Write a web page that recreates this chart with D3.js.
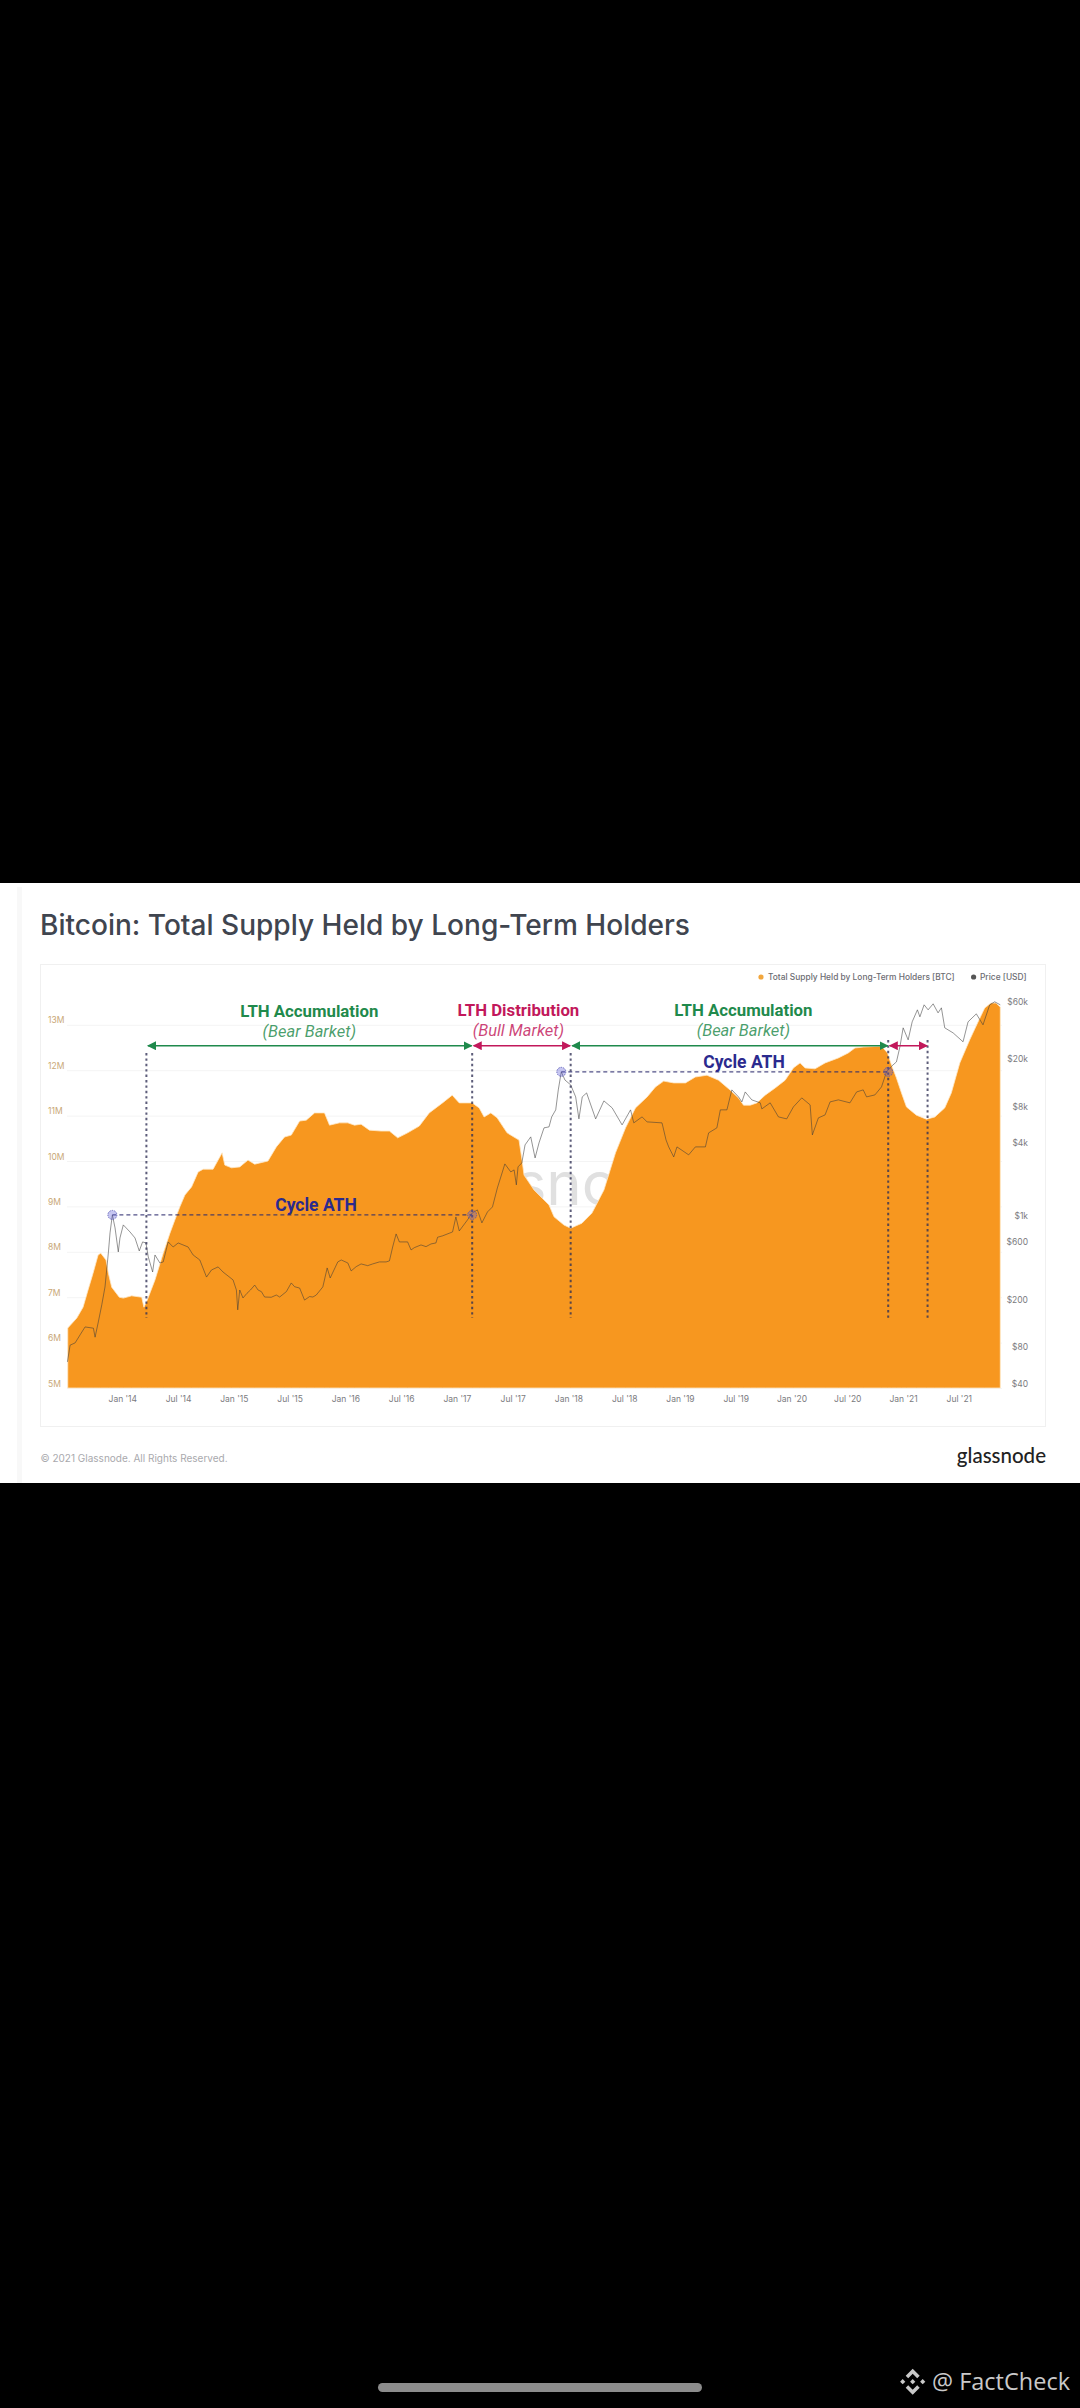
<!DOCTYPE html>
<html lang="en">
<head>
<meta charset="utf-8">
<title>Bitcoin: Total Supply Held by Long-Term Holders</title>
<style>
  html, body { margin: 0; padding: 0; background: #000; }
  svg { display: block; }
  .axis path { display: none; }
  .axis text { font-family: Inter, sans-serif; font-size: 8.5px; }
  .annot { font-family: Roboto, sans-serif; text-anchor: middle; }
</style>
<script src="https://d3js.org/d3.v7.min.js"></script>
</head>
<body>
<div id="chart"></div>
<script>
// values
const supplyYears = [2013.511,2013.592,2013.648,2013.693,2013.738,2013.783,2013.807,2013.854,2013.875,2013.905,2013.973,2014.009,2014.084,2014.174,2014.194,2014.224,2014.293,2014.367,2014.427,2014.471,2014.516,2014.561,2014.621,2014.680,2014.725,2014.814,2014.859,2014.895,2014.919,2014.979,2015.053,2015.127,2015.187,2015.306,2015.381,2015.455,2015.515,2015.590,2015.649,2015.724,2015.813,2015.858,2015.947,2016.022,2016.082,2016.141,2016.216,2016.320,2016.395,2016.469,2016.558,2016.663,2016.752,2016.871,2016.958,2017.021,2017.137,2017.200,2017.244,2017.304,2017.361,2017.450,2017.557,2017.584,2017.602,2017.692,2017.826,2017.871,2017.960,2018.020,2018.121,2018.210,2018.318,2018.422,2018.512,2018.601,2018.705,2018.780,2018.854,2018.944,2019.049,2019.138,2019.242,2019.346,2019.451,2019.525,2019.570,2019.630,2019.689,2019.764,2019.854,2019.943,2020.017,2020.077,2020.122,2020.211,2020.301,2020.420,2020.509,2020.569,2020.643,2020.807,2020.861,2020.897,2020.941,2020.986,2021.031,2021.120,2021.210,2021.285,2021.374,2021.433,2021.509,2021.598,2021.672,2021.732,2021.789,2021.833,2021.872];
const supplyValues = [6.32,6.54,6.78,7.16,7.53,7.93,7.97,7.82,7.53,7.22,7.00,6.98,7.03,7.00,6.78,6.94,7.38,7.97,8.41,8.70,8.99,9.25,9.43,9.76,9.82,9.82,10.02,10.18,9.91,9.85,9.87,10.02,9.93,10.00,10.31,10.53,10.57,10.88,10.90,11.06,11.06,10.79,10.84,10.84,10.79,10.81,10.68,10.66,10.66,10.51,10.62,10.77,11.06,11.28,11.45,11.28,11.28,11.17,10.97,11.06,10.95,10.62,10.46,10.02,9.69,9.36,9.03,8.77,8.59,8.52,8.63,8.85,9.36,10.18,10.73,11.17,11.41,11.63,11.76,11.72,11.72,11.85,11.89,11.78,11.56,11.39,11.23,11.23,11.28,11.45,11.61,11.78,12.05,12.16,12.05,12.03,12.16,12.27,12.38,12.49,12.51,12.53,12.38,12.11,11.83,11.50,11.19,11.01,10.92,10.97,11.17,11.50,12.16,12.67,13.06,13.37,13.48,13.48,13.39];

const priceYears = [2013.508,2013.532,2013.577,2013.622,2013.666,2013.741,2013.756,2013.785,2013.816,2013.845,2013.875,2013.890,2013.911,2013.935,2013.964,2013.979,2014.009,2014.069,2014.114,2014.152,2014.182,2014.212,2014.233,2014.272,2014.293,2014.337,2014.367,2014.411,2014.456,2014.501,2014.590,2014.635,2014.695,2014.755,2014.800,2014.859,2014.903,2014.993,2015.023,2015.035,2015.053,2015.082,2015.118,2015.149,2015.187,2015.217,2015.247,2015.276,2015.336,2015.381,2015.411,2015.471,2015.515,2015.545,2015.590,2015.634,2015.679,2015.709,2015.739,2015.798,2015.837,2015.864,2015.932,2015.963,2016.022,2016.052,2016.097,2016.141,2016.200,2016.245,2016.305,2016.365,2016.395,2016.424,2016.455,2016.484,2016.558,2016.589,2016.618,2016.678,2016.723,2016.768,2016.812,2016.827,2016.871,2016.931,2016.961,2016.991,2017.021,2017.095,2017.137,2017.184,2017.224,2017.274,2017.319,2017.363,2017.408,2017.430,2017.483,2017.513,2017.533,2017.548,2017.582,2017.611,2017.662,2017.701,2017.736,2017.781,2017.826,2017.850,2017.886,2017.909,2017.936,2017.969,2018.020,2018.065,2018.094,2018.124,2018.163,2018.244,2018.318,2018.392,2018.481,2018.557,2018.586,2018.660,2018.705,2018.839,2018.875,2018.899,2018.944,2018.973,2019.078,2019.138,2019.228,2019.257,2019.331,2019.362,2019.421,2019.465,2019.525,2019.555,2019.585,2019.644,2019.720,2019.734,2019.809,2019.883,2019.957,2020.017,2020.092,2020.167,2020.187,2020.241,2020.301,2020.346,2020.420,2020.524,2020.584,2020.643,2020.673,2020.748,2020.807,2020.852,2020.891,2020.941,2020.972,2021.001,2021.046,2021.082,2021.129,2021.151,2021.189,2021.225,2021.270,2021.314,2021.344,2021.374,2021.449,2021.538,2021.583,2021.657,2021.717,2021.777,2021.822,2021.872];
const priceValues = [66,91,95,111,129,126,106,142,197,278,534,783,1106,862,544,711,913,798,711,554,659,646,494,370,513,440,449,659,598,646,598,513,466,336,385,408,370,318,262,179,262,225,246,262,288,262,254,229,228,238,229,254,300,279,272,216,231,229,238,278,400,330,449,466,440,378,410,432,418,432,449,449,458,598,768,659,659,565,590,622,602,634,646,721,740,778,798,1064,813,1005,1148,1217,949,1171,1289,1857,2524,2942,2524,2622,1967,2778,3000,4237,4940,3300,4400,5874,5985,7250,8295,12170,17200,14700,13400,10640,6976,10640,11480,6976,9856,8618,6220,8295,6464,7250,6588,6464,4664,4077,3365,4077,3500,4077,4077,5335,5874,8295,8295,12170,10640,9666,11700,10050,9490,8450,9490,7250,6976,8782,10440,9127,5130,7113,7530,9666,10050,9490,11700,12170,10640,11050,12890,17200,18930,20830,27770,40000,31770,44880,56500,49400,62200,56500,63400,53300,58700,40000,36300,30600,44880,52300,42400,62200,65900,62200];

const xTickYears = [2014,2014.5,2015,2015.5,2016,2016.5,2017,2017.5,2018,2018.5,2019,2019.5,2020,2020.5,2021,2021.5];
const xTickLabels = ["Jan '14","Jul '14","Jan '15","Jul '15","Jan '16","Jul '16","Jan '17","Jul '17","Jan '18","Jul '18","Jan '19","Jul '19","Jan '20","Jul '20","Jan '21","Jul '21"];
const supplyTicks = [5,6,7,8,9,10,11,12,13];
const priceTicks = [40,80,200,600,1000,4000,8000,20000,60000];
const priceTickLabels = ["$40","$80","$200","$600","$1k","$4k","$8k","$20k","$60k"];

// phase boundaries and cycle highs
const phaseYears = [2014.216,2017.137,2018.020,2020.867,2021.220];
const phaseNames = ["LTH Accumulation","LTH Distribution","LTH Accumulation",""];
const phaseNotes = ["(Bear Barket)","(Bull Market)","(Bear Barket)",""];
const athYears = [[2013.911,2017.137],[2017.936,2020.867]];
const athPrices = [1106,17200];

const GREEN = "#1f8a4c", PINK = "#c2185b", NAVY = "#2b2a8e", ORANGE = "#f7971f";
// headings are not quite centred over their arrows
const labelShift = [0, -3, 14, 0];

const svg = d3.select("#chart").append("svg")
  .attr("width", 1080).attr("height", 2408);

// arrow heads
[["g", GREEN], ["p", PINK]].forEach(([id, col]) => {
  svg.append("marker").attr("id", "head-" + id)
    .attr("viewBox", "0 0 10 10").attr("refX", 9).attr("refY", 5)
    .attr("markerUnits", "userSpaceOnUse")
    .attr("markerWidth", 9).attr("markerHeight", 9)
    .attr("orient", "auto-start-reverse")
    .append("path").attr("d", "M0,0L10,5L0,10Z").attr("fill", col);
});

// white page card
svg.append("rect").attr("x", 0).attr("y", 883).attr("width", 1080).attr("height", 600).attr("fill", "#fff");
svg.append("rect").attr("x", 17).attr("y", 887).attr("width", 5).attr("height", 596).attr("fill", "#f8f8f8");

svg.append("text").attr("x", 40).attr("y", 935)
  .attr("font-family", "Inter, sans-serif").attr("font-size", 28.05).attr("font-weight", 500)
  .attr("fill", "#40454f")
  .text("Bitcoin: Total Supply Held by Long-Term Holders");

svg.append("rect").attr("x", 40.5).attr("y", 964.5).attr("width", 1005).attr("height", 462)
  .attr("fill", "#fff").attr("stroke", "#f0f0f0");

// scales
const x = d3.scaleLinear().domain([2014, 2021.5]).range([122.3, 958.8]);
const ySupply = d3.scaleLinear().domain([5, 13]).range([1388, 1024.8]);
const yPrice = d3.scaleLog().domain([40, 60000]).range([1388, 1006.7]);

// axes
const yAxis = svg.append("g").attr("class", "axis").attr("transform", "translate(67,0)")
  .call(d3.axisLeft(ySupply).tickValues(supplyTicks).tickSize(-935).tickFormat(d => d + "M"));
yAxis.selectAll("line").attr("stroke", "#f4f4f4");
yAxis.selectAll("text").attr("x", -19).attr("dy", -2).attr("text-anchor", "start").attr("fill", "#c9a877");

const rAxis = svg.append("g").attr("class", "axis").attr("transform", "translate(1028,0)")
  .call(d3.axisRight(yPrice).tickValues(priceTicks).tickSize(0)
    .tickFormat(d => priceTickLabels[priceTicks.indexOf(d)]));
rAxis.selectAll("text").attr("x", 0).attr("dy", -2).attr("text-anchor", "end").attr("fill", "#7b7b80");

const xAxis = svg.append("g").attr("class", "axis").attr("transform", "translate(0,1388)")
  .call(d3.axisBottom(x).tickValues(xTickYears).tickSize(0)
    .tickFormat(d => xTickLabels[xTickYears.indexOf(d)]));
xAxis.selectAll("text").attr("y", 8).attr("fill", "#7b7b80");

// watermark sits behind the area
svg.append("text").attr("x", 398).attr("y", 1205)
  .attr("font-family", "Inter, sans-serif").attr("font-size", 60).attr("font-weight", 400)
  .attr("fill", "#e0e0e0").text("glassnode");

// supply area
const supply = supplyYears.map((yr, i) => [yr, supplyValues[i]]);
const area = d3.area().x(d => x(d[0])).y0(ySupply(5)).y1(d => ySupply(d[1]));
svg.append("path").attr("d", area(supply))
  .attr("fill", ORANGE).attr("stroke", "#ffe9c6").attr("stroke-width", 0.8);

// price line, translucent so it turns brown over the area
const price = priceYears.map((yr, i) => [yr, priceValues[i]]);
const line = d3.line().x(d => x(d[0])).y(d => yPrice(d[1]));
svg.append("path").attr("d", line(price))
  .attr("fill", "none").attr("stroke", "#3a3a3a").attr("stroke-opacity", 0.6)
  .attr("stroke-width", 0.9);

// phase separators
svg.selectAll("line.phase").data(phaseYears).join("line")
  .attr("class", "phase")
  .attr("x1", d => x(d)).attr("x2", d => x(d))
  .attr("y1", (d, i) => i > 2 ? 1040 : 1053).attr("y2", 1318)
  .attr("stroke", "#2f2f55").attr("stroke-opacity", 0.78)
  .attr("stroke-width", 2).attr("stroke-dasharray", "2.4 3");

// cycle ATH links and markers
athYears.forEach((yrs, i) => {
  const yy = yPrice(athPrices[i]);
  svg.append("line").attr("x1", x(yrs[0])).attr("x2", x(yrs[1])).attr("y1", yy).attr("y2", yy)
    .attr("stroke", "#2b2a6e").attr("stroke-opacity", 0.82)
    .attr("stroke-width", 1.3).attr("stroke-dasharray", "4 3");
  svg.selectAll(null).data(yrs).join("circle")
    .attr("cx", d => x(d)).attr("cy", yy).attr("r", 4.5)
    .attr("fill", "#5b5bd6").attr("fill-opacity", 0.35)
    .attr("stroke", "#5050b0").attr("stroke-width", 0.8).attr("stroke-dasharray", "1.5 1");
});

svg.append("text").attr("class", "annot")
  .attr("x", 316).attr("y", 1211)
  .attr("font-size", 17.5).attr("font-weight", 700).attr("fill", NAVY).text("Cycle ATH");
svg.append("text").attr("class", "annot")
  .attr("x", 744).attr("y", 1068)
  .attr("font-size", 17.5).attr("font-weight", 700).attr("fill", NAVY).text("Cycle ATH");

// phase arrows and headings
d3.pairs(phaseYears).forEach(([a, b], i) => {
  const col = i % 2 === 0 ? GREEN : PINK;
  const head = i % 2 === 0 ? "url(#head-g)" : "url(#head-p)";
  svg.append("line")
    .attr("x1", x(a) + 1.5).attr("x2", x(b) - 0.5).attr("y1", 1045.7).attr("y2", 1045.7)
    .attr("stroke", col).attr("stroke-width", 1.6)
    .attr("marker-start", head).attr("marker-end", head);
  const mid = (x(a) + x(b)) / 2 + labelShift[i];
  svg.append("text").attr("class", "annot").attr("x", mid).attr("y", i === 0 ? 1017 : 1016)
    .attr("font-size", 16.8).attr("font-weight", 700).attr("fill", col).text(phaseNames[i]);
  svg.append("text").attr("class", "annot").attr("x", mid).attr("y", i === 0 ? 1037 : 1036)
    .attr("font-size", 16.5).attr("font-style", "italic").attr("fill", col).attr("fill-opacity", 0.82)
    .text(phaseNotes[i]);
});

// legend
const legend = svg.append("g").attr("font-family", "Inter, sans-serif").attr("font-size", 8.4)
  .attr("font-weight", 500).attr("fill", "#6c6c72");
legend.append("circle").attr("cx", 761).attr("cy", 977).attr("r", 2.6).attr("fill", "#f2a63c");
legend.append("text").attr("x", 768).attr("y", 980).text("Total Supply Held by Long-Term Holders [BTC]");
legend.append("circle").attr("cx", 973.6).attr("cy", 977).attr("r", 2.6).attr("fill", "#555");
legend.append("text").attr("x", 980).attr("y", 980).text("Price [USD]");

// footer
svg.append("text").attr("x", 40.5).attr("y", 1461.5)
  .attr("font-family", "Inter, sans-serif").attr("font-size", 10).attr("fill", "#a9a9ad")
  .text("© 2021 Glassnode. All Rights Reserved.");
svg.append("text").attr("x", 1046).attr("y", 1463).attr("text-anchor", "end")
  .attr("font-family", "Lato, sans-serif").attr("font-size", 20.5).attr("font-weight", 500)
  .attr("fill", "#222").text("glassnode");

// phone overlay at the bottom
svg.append("rect").attr("x", 378).attr("y", 2383).attr("width", 324).attr("height", 9)
  .attr("rx", 4.5).attr("fill", "#8c8c8c");
const logo = svg.append("g").attr("transform", "translate(912.7,2381.7)").attr("fill", "#c9c9c9");
logo.append("path").attr("d", "M0,-13L7,-6L4.5,-3.5L0,-8L-4.5,-3.5L-7,-6Z");
logo.append("path").attr("d", "M0,13L7,6L4.5,3.5L0,8L-4.5,3.5L-7,6Z");
logo.append("path").attr("d", "M0,-2.6L2.6,0L0,2.6L-2.6,0Z");
logo.append("path").attr("d", "M-10,-2.6L-7.4,0L-10,2.6L-12.6,0Z");
logo.append("path").attr("d", "M10,-2.6L12.6,0L10,2.6L7.4,0Z");
svg.append("text").attr("x", 932).attr("y", 2390)
  .attr("font-family", "'Open Sans', sans-serif").attr("font-size", 23.5).attr("fill", "#c9c9c9")
  .text("@ FactCheck");
</script>
</body>
</html>
